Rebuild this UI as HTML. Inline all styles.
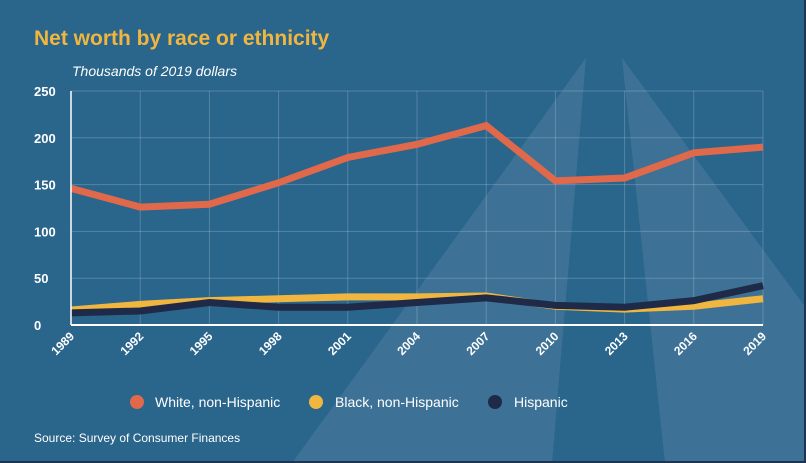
<!DOCTYPE html>
<html><head><meta charset="utf-8"><style>
body{margin:0;background:#2a658c;}
svg{display:block;font-family:"Liberation Sans",sans-serif;}
</style></head><body>
<svg width="806" height="463" viewBox="0 0 806 463">
<rect x="0" y="0" width="806" height="463" fill="#2a658c"/>
<polygon points="586,58 292,463 552,463" fill="rgba(255,255,255,0.09)"/>
<polygon points="622,58 665,463 806,463 806,308" fill="rgba(255,255,255,0.09)"/>
<rect x="804" y="0" width="2" height="463" fill="#1d3550"/>
<rect x="0" y="461" width="806" height="2" fill="#1d3550"/>
<text x="34" y="45" fill="#f0b63f" font-size="21" font-weight="bold">Net worth by race or ethnicity</text>
<text x="72" y="76" fill="#ffffff" font-size="14" font-style="italic">Thousands of 2019 dollars</text>
<g id="grid"></g><g id="series"></g><g id="axes"></g>
<g>
<circle cx="137" cy="402" r="7" fill="#e0684b"/>
<text x="155" y="407" fill="#fff" font-size="14">White, non-Hispanic</text>
<circle cx="316" cy="402" r="7" fill="#f0b63f"/>
<text x="335" y="407" fill="#fff" font-size="14">Black, non-Hispanic</text>
<circle cx="495" cy="402" r="7" fill="#1e2a48"/>
<text x="514" y="407" fill="#fff" font-size="14">Hispanic</text>
</g>
<text x="34" y="442" fill="#fff" font-size="12">Source: Survey of Consumer Finances</text>
</svg>
<script>
const years=[1989,1992,1995,1998,2001,2004,2007,2010,2013,2016,2019];
const whiteVals=[146,126,129,152,179,193,213,154,157,184,190];
const blackVals=[16,22,26,28,30,30,31,20,17,20,28];
const hispVals=[13,15,24,19,19,24,29,21,19,26,42];
const yTicks=[0,50,100,150,200,250];
const NS="http://www.w3.org/2000/svg";
const x0=71,x1=763,y0=325,y1=91;
const xs=i=>x0+(x1-x0)*i/(years.length-1);
const ys=v=>y0-(y0-y1)*v/250;
function mk(t,a,p){const e=document.createElementNS(NS,t);for(const k in a)e.setAttribute(k,a[k]);p.appendChild(e);return e;}
const grid=document.getElementById('grid'),axes=document.getElementById('axes'),ser=document.getElementById('series');
yTicks.forEach(v=>{
 const l=mk('line',{x1:x0,x2:x1,y1:ys(v),y2:ys(v),stroke:'rgba(255,255,255,0.2)','stroke-width':1},grid);
 
 
 const t=mk('text',{x:34,y:ys(v)+5,fill:'#fff','font-size':13,'font-weight':'bold'},axes);
 t.textContent=v;
 
 
});
years.forEach((y,i)=>{
 const l=mk('line',{x1:xs(i),x2:xs(i),y1:y1,y2:y0,stroke:'rgba(255,255,255,0.2)','stroke-width':1},grid);
 
 
 const t=mk('text',{x:xs(i)+4,y:y0+12,fill:'#fff','font-size':12,'font-weight':'bold','text-anchor':'end',transform:`rotate(-45 ${xs(i)+4} ${y0+12})`},axes);
 t.textContent=y;
 
 
});
const ya=mk('line',{x1:x0,x2:x0,y1:y1,y2:y0,stroke:'#fff','stroke-width':1.5},axes);


const xa=mk('line',{x1:x0,x2:x1,y1:y0,y2:y0,stroke:'#fff','stroke-width':2},axes);


function line(vals,color,name){
 const p=mk('polyline',{points:vals.map((v,i)=>xs(i)+','+ys(v)).join(' '),fill:'none',stroke:color,'stroke-width':7,'stroke-linejoin':'miter'},ser);
 
 
}
line(whiteVals,'#e0684b','line-white-non-hispanic');
line(blackVals,'#f0b63f','line-black-non-hispanic');
line(hispVals,'#1e2a48','line-hispanic');
</script>
</body></html>
